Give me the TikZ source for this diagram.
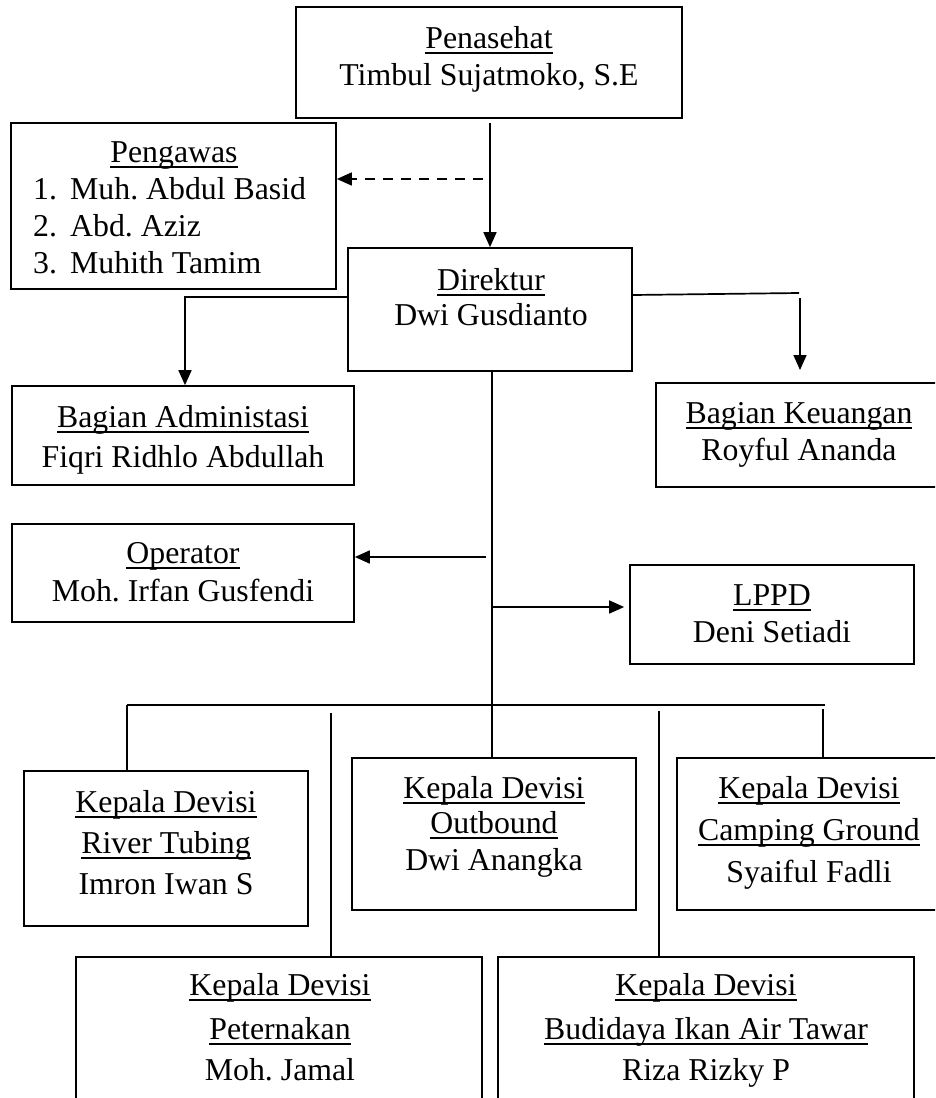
\documentclass[tikz,border=0pt]{standalone}
\usepackage{fontspec}
\setmainfont{Liberation Serif}
\usetikzlibrary{arrows.meta,fit}
\frenchspacing
\newcommand\ulx[1]{\setbox0\hbox{#1}\rlap{\rule[-5.6pt]{\wd0}{1.8pt}}\box0}
\tikzset{
  x=1pt, y=-1pt,
  box/.style={draw, line width=1.7pt, inner sep=0pt, rectangle},
  lbl/.style={anchor=base, inner sep=0pt, font=\fontsize{31.8pt}{37pt}\selectfont\frenchspacing},
  lblw/.style={lbl, anchor=base west},
  conn/.style={line width=1.7pt},
  arr/.style={conn, -{Triangle[length=15pt,width=13pt]}},
  darr/.style={arr, dash pattern=on 10pt off 8pt}
}
\begin{document}
\begin{tikzpicture}
\useasboundingbox (0,0) rectangle (935,1098);
\clip (0,0) rectangle (935,1098);
% boxes
\node[box, fit={(296,7) (682,118)}] (pen) {};
\node[box, fit={(11,123) (336,289)}] (peng) {};
\node[box, fit={(348,248) (632,371)}] (dir) {};
\node[box, fit={(12,386) (354,485)}] (adm) {};
\node[box, fit={(656,383) (950,487)}] (keu) {};
\node[box, fit={(12,524) (354,622)}] (op) {};
\node[box, fit={(630,565) (914,664)}] (lppd) {};
\node[box, fit={(24,771) (308,926)}] (river) {};
\node[box, fit={(352,758) (636,910)}] (outb) {};
\node[box, fit={(677,758) (950,910)}] (camp) {};
\node[box, fit={(76,957) (482,1115)}] (peter) {};
\node[box, fit={(498,957) (914,1115)}] (budi) {};
% texts
\node[lbl] (pen1) at (489,48) {\ulx{Penasehat}};
\node[lbl] (pen2) at (489,85) {Timbul Sujatmoko, S.E};
\node[lbl] (peng1) at (174,162) {\ulx{Pengawas}};
\node[lblw] (peng2n) at (33,199) {1.};
\node[lblw] (peng2) at (70,199) {Muh. Abdul Basid};
\node[lblw] (peng3n) at (33,236) {2.};
\node[lblw] (peng3) at (70,236) {Abd. Aziz};
\node[lblw] (peng4n) at (33,273) {3.};
\node[lblw] (peng4) at (70,273) {Muhith Tamim};
\node[lbl] (dir1) at (491,290) {\ulx{Direktur}};
\node[lbl] (dir2) at (491,325) {Dwi Gusdianto};
\node[lbl] (adm1) at (183,427) {\ulx{Bagian Administasi}};
\node[lbl] (adm2) at (183,467) {Fiqri Ridhlo Abdullah};
\node[lbl] (keu1) at (799,423) {\ulx{Bagian Keuangan}};
\node[lbl] (keu2) at (799,460) {Royful Ananda};
\node[lbl] (op1) at (183,563) {\ulx{Operator}};
\node[lbl] (op2) at (183,601) {Moh. Irfan Gusfendi};
\node[lbl] (lppd1) at (772,605) {\ulx{LPPD}};
\node[lbl] (lppd2) at (772,642) {Deni Setiadi};
\node[lbl] (river1) at (166,812) {\ulx{Kepala Devisi}};
\node[lbl] (river2) at (166,853) {\ulx{River Tubing}};
\node[lbl] (river3) at (166,894) {Imron Iwan S};
\node[lbl] (outb1) at (494,798) {\ulx{Kepala Devisi}};
\node[lbl] (outb2) at (494,833) {\ulx{Outbound}};
\node[lbl] (outb3) at (494,870) {Dwi Anangka};
\node[lbl] (camp1) at (809,798) {\ulx{Kepala Devisi}};
\node[lbl] (camp2) at (809,840) {\ulx{Camping Ground}};
\node[lbl] (camp3) at (809,882) {Syaiful Fadli};
\node[lbl] (peter1) at (280,995) {\ulx{Kepala Devisi}};
\node[lbl] (peter2) at (280,1039) {\ulx{Peternakan}};
\node[lbl] (peter3) at (280,1080) {Moh. Jamal};
\node[lbl] (budi1) at (706,995) {\ulx{Kepala Devisi}};
\node[lbl] (budi2) at (706,1039) {\ulx{Budidaya Ikan Air Tawar}};
\node[lbl] (budi3) at (706,1080) {Riza Rizky P};
% connector coordinates
\coordinate (penout) at (490,123);
\coordinate (dashst) at (483,179);
\coordinate (admturn) at (185,297);
\coordinate (keuturn) at (799,293);
\coordinate (keutop) at (800,298);
\coordinate (keuend) at (800,370);
\coordinate (spine) at (492,705);
\coordinate (opst) at (486,557);
\coordinate (lppdst) at (492,607);
\coordinate (busl) at (127,705);
\coordinate (busr) at (825,705);
\coordinate (peterst) at (331,713);
\coordinate (budist) at (659,711);
\coordinate (campst) at (823,709);
% connectors
\draw[arr] (penout) -- (penout |- dir.north);
\draw[darr] (dashst) -- (dashst -| peng.east);
\draw[arr] (admturn -| dir.west) -| (admturn |- adm.north);
\draw[conn] (dir.east |- 0,295) -- (keuturn);
\draw[arr] (keutop) -- (keuend);
\draw[conn] (spine |- dir.south) -- (spine);
\draw[arr] (opst) -- (opst -| op.east);
\draw[arr] (lppdst) -- ([xshift=-5pt]lppdst -| lppd.west);
\draw[conn] (busl) -- (busr);
\draw[conn] (busl) -- (busl |- river.north);
\draw[conn] (peterst) -- (peterst |- peter.north);
\draw[conn] (spine) -- (spine |- outb.north);
\draw[conn] (budist) -- (budist |- budi.north);
\draw[conn] (campst) -- (campst |- camp.north);
\end{tikzpicture}
\end{document}
